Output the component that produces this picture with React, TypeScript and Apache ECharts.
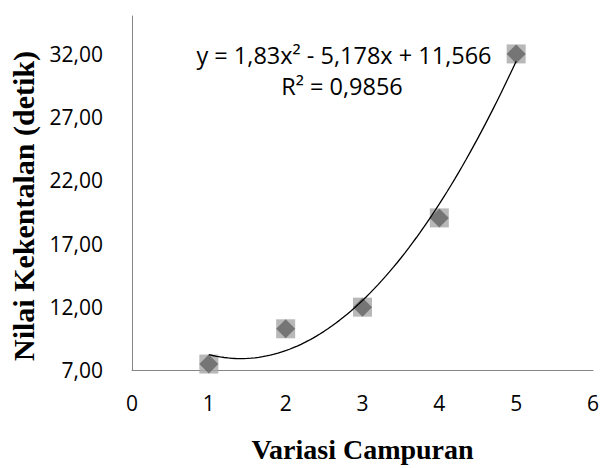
import React, { useEffect, useRef } from "react";
import * as echarts from "echarts";

const variasi = [1, 2, 3, 4, 5];
const kekentalan = [7.47, 10.26, 11.97, 19.03, 32.0];
// Polynomial trendline coefficients shown in the chart: y = a x^2 + b x + c
const trendCoef = [1.83, -5.178, 11.566];
const trendRange = [1, 5];
const equationText = "y = 1,83x² - 5,178x + 11,566";
const r2Text = "R² = 0,9856";

export default function App() {
  const ref = useRef<HTMLDivElement>(null);
  useEffect(() => {
    if (!ref.current) return;
    const chart = echarts.init(ref.current, null, { renderer: "svg" });
    const pts = variasi.map((x, i) => [x, kekentalan[i]]);
    const trend: number[][] = [];
    const steps = 80;
    for (let i = 0; i <= steps; i++) {
      const x = trendRange[0] + ((trendRange[1] - trendRange[0]) * i) / steps;
      trend.push([x, trendCoef[0] * x * x + trendCoef[1] * x + trendCoef[2]]);
    }
    const tickFont = { fontFamily: "Open Sans", fontSize: 21, color: "#000" };
    chart.setOption({
      animation: false,
      grid: { left: 131, right: 16, top: 16, bottom: 92, containLabel: false },
      xAxis: {
        type: "value",
        min: 0,
        max: 6,
        interval: 1,
        name: "Variasi Campuran",
        nameLocation: "middle",
        nameGap: 65,
        nameTextStyle: { fontFamily: "Liberation Serif", fontWeight: "bold", fontSize: 28, color: "#000" },
        axisLine: { show: true, lineStyle: { color: "#868686", width: 1 } },
        axisTick: { show: false },
        splitLine: { show: false },
        axisLabel: { ...tickFont, margin: 22 },
      },
      yAxis: {
        type: "value",
        min: 7,
        max: 35,
        interval: 5,
        name: "Nilai Kekentalan (detik)",
        nameLocation: "middle",
        nameGap: 94,
        nameTextStyle: {
          fontFamily: "Liberation Serif",
          fontWeight: "bold",
          fontSize: 30,
          color: "#000",
          padding: [0, 26, 0, 0],
        },
        axisLine: { show: true, lineStyle: { color: "#868686", width: 1 } },
        axisTick: { show: false },
        splitLine: { show: false },
        axisLabel: {
          ...tickFont,
          margin: 29,
          showMaxLabel: false,
          formatter: (v: number) => (v > 32 ? "" : v.toFixed(2).replace(".", ",")),
        },
      },
      series: [
        {
          type: "scatter",
          data: pts,
          symbol: "rect",
          symbolSize: 19,
          itemStyle: { color: "#a6a6a6" },
          z: 2,
        },
        {
          type: "scatter",
          data: pts,
          symbol: "diamond",
          symbolSize: 19,
          itemStyle: { color: "#646464" },
          z: 3,
        },
        {
          type: "line",
          data: trend,
          showSymbol: false,
          symbol: "none",
          lineStyle: { color: "#000", width: 1.3 },
          z: 4,
        },
      ],
      graphic: [
        {
          type: "text",
          x: 344,
          y: 55,
          style: {
            text: equationText,
            fontFamily: "Open Sans",
            fontSize: 23.5,
            fill: "#000",
            align: "center",
            verticalAlign: "middle",
          },
        },
        {
          type: "text",
          x: 342,
          y: 86,
          style: {
            text: r2Text,
            fontFamily: "Open Sans",
            fontSize: 23.5,
            fill: "#000",
            align: "center",
            verticalAlign: "middle",
          },
        },
      ],
    });
    return () => chart.dispose();
  }, []);
  return (
    <div
      ref={ref}
      style={{ position: "absolute", left: 0, top: 0, width: 609, height: 468 }}
    />
  );
}
